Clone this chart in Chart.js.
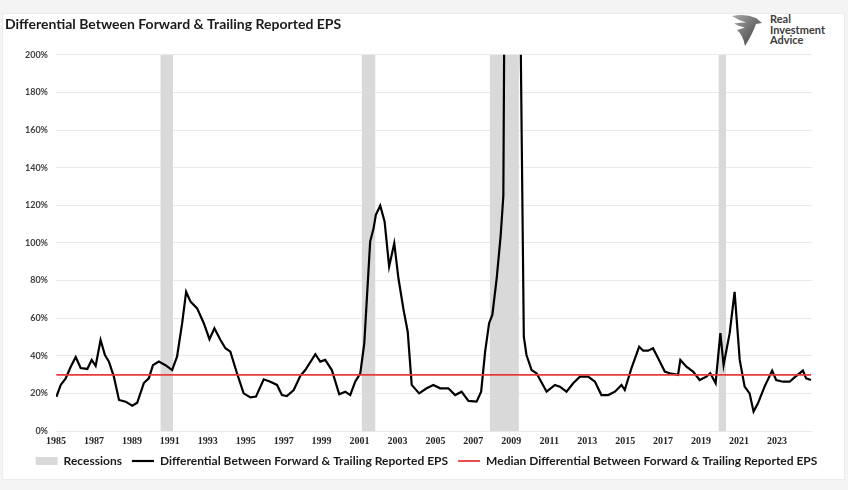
<!DOCTYPE html>
<html>
<head>
<meta charset="utf-8">
<script src="https://cdn.jsdelivr.net/npm/chart.js@4.4.1/dist/chart.umd.min.js"></script>
<style>
  html, body { margin: 0; padding: 0; background: #f4f4f4; }
  #wrap { position: relative; width: 848px; height: 490px; overflow: hidden; }
  #card { position: absolute; left: 2px; top: 13px; width: 843px; height: 467px; background: #fff; border: 1px solid #ececec; box-sizing: border-box; }
  #chart { position: absolute; left: 0; top: 0; }
  #logo { position: absolute; left: 731px; top: 13px; }
  #logoText { position: absolute; left: 770px; top: 14px; font: bold 11px Lato, sans-serif; line-height: 10.5px; color: #3c3c3c; }
</style>
</head>
<body>
<div id="wrap">
  <div id="card"></div>
  <svg id="logo" width="32" height="34" viewBox="0 0 32 34">
    <defs>
      <linearGradient id="g" x1="0" y1="0" x2="1" y2="1">
        <stop offset="0" stop-color="#a8a8a8"/>
        <stop offset="1" stop-color="#3a3a3a"/>
      </linearGradient>
    </defs>
    <path d="M1 3 Q14 0 25 5 L31 10 L25 11 Q22 20 14 33 Q12 22 6 17 Q10 15.5 14 14.5 Q8 13.5 3 10.5 Q9 9.5 15 9.5 Q8 7.5 1 3Z" fill="url(#g)"/>
  </svg>
  <div id="logoText">Real<br>Investment<br>Advice</div>
  <canvas id="chart" width="848" height="490"></canvas>
</div>
<script>
// values (decimal year, percent)
const dates = [
  1985.02, 1985.25, 1985.51, 1985.77, 1986.04, 1986.30, 1986.65, 1986.88, 1987.09, 1987.35,
  1987.58, 1987.79, 1988.05, 1988.32, 1988.67, 1989.02, 1989.28, 1989.63, 1989.89, 1990.11,
  1990.42, 1990.77, 1991.12, 1991.38, 1991.65, 1991.86, 1992.09, 1992.44, 1992.79, 1993.09,
  1993.35, 1993.67, 1993.93, 1994.19, 1994.54, 1994.89, 1995.25, 1995.54, 1995.95, 1996.30,
  1996.65, 1996.91, 1997.17, 1997.53, 1997.88, 1998.14, 1998.67, 1998.93, 1999.19, 1999.54,
  1999.93, 2000.25, 2000.51, 2000.77, 2001.04, 2001.25, 2001.56, 2001.74, 2001.86, 2002.09,
  2002.32, 2002.56, 2002.83, 2003.05, 2003.32, 2003.54, 2003.75, 2004.14, 2004.54, 2004.89,
  2005.25, 2005.68, 2006.04, 2006.38, 2006.74, 2007.17, 2007.41, 2007.62, 2007.83, 2008.00,
  2008.23, 2008.44, 2008.58, 2009.00, 2009.47, 2009.66, 2009.80, 2010.07, 2010.33, 2010.86,
  2011.30, 2011.56, 2011.91, 2012.26, 2012.62, 2013.05, 2013.41, 2013.75, 2014.11, 2014.46,
  2014.81, 2014.98, 2015.33, 2015.74, 2015.95, 2016.21, 2016.47, 2016.74, 2017.09, 2017.35,
  2017.79, 2017.91, 2018.23, 2018.58, 2018.93, 2019.28, 2019.49, 2019.77, 2020.02, 2020.19,
  2020.51, 2020.77, 2021.04, 2021.30, 2021.56, 2021.77, 2022.00, 2022.35, 2022.75, 2022.96,
  2023.32, 2023.67, 2023.93, 2024.37, 2024.54, 2024.80
];
const epsDiff = [
  18.2, 24.5, 28, 34, 39.3, 33.5, 33, 37.8, 34.6, 48.4,
  40.4, 36.9, 28.9, 16.5, 15.6, 13.5, 15, 25.5, 28, 35,
  36.9, 35, 32.4, 39.5, 57.3, 74, 68.8, 65.2, 57.3, 48.8,
  54.6, 48.4, 44, 42.2, 30.7, 20, 17.9, 18.3, 27.5, 26.2,
  24.5, 19.1, 18.6, 21.8, 29.3, 32.4, 40.8, 36.9, 37.8, 32.4,
  19.5, 20.9, 19.1, 26.2, 30.7, 46.6, 100.7, 107.8, 114.9, 119.8,
  111.4, 87.4, 99.8, 81.2, 64.4, 52.8, 24.5, 20, 22.7, 24.5,
  22.7, 22.7, 19.1, 20.9, 16, 15.6, 20.9, 42.2, 57.3, 61.7,
  81.2, 104, 125, 900, 230, 50, 40.4, 32.4, 30.7, 20.9,
  24.5, 23.6, 20.9, 25.4, 28.9, 28.9, 26.2, 19.1, 19.1, 20.9,
  24.5, 21.8, 33.3, 44.8, 42.7, 42.7, 44, 38.7, 31.6, 30.7,
  29.8, 37.8, 34.2, 31.6, 27.1, 28.9, 30.7, 25.4, 52, 35,
  52, 74, 37.8, 23.6, 20, 10.3, 14.7, 23.6, 32.1, 27.1,
  26.2, 26.2, 28.5, 32.1, 28, 27.1
];
const medianDiff = 29.8;
const recessionStart = [1990.5, 2001.12, 2007.87, 2019.93];
const recessionEnd = [1991.17, 2001.83, 2009.4, 2020.33];
const yearTicks = [1985, 1987, 1989, 1991, 1993, 1995, 1997, 1999, 2001, 2003,
  2005, 2007, 2009, 2011, 2013, 2015, 2017, 2019, 2021, 2023];

const yTop = 200;
const recessionPoints = [];
recessionStart.forEach((s, i) => {
  recessionPoints.push({x: s, y: 0}, {x: s, y: yTop}, {x: recessionEnd[i], y: yTop}, {x: recessionEnd[i], y: 0});
});

new Chart(document.getElementById("chart"), {
  type: "line",
  data: {
    datasets: [{
      label: "Recessions",
      data: recessionPoints,
      backgroundColor: "#d9d9d9",
      borderColor: "rgba(0,0,0,0)",
      borderWidth: 0,
      pointRadius: 0,
      pointStyle: "rect",
      fill: "origin",
      order: 3
    }, {
      label: "Differential Between Forward & Trailing Reported EPS",
      data: dates.map((d, i) => ({x: d, y: epsDiff[i]})),
      borderColor: "#000",
      borderWidth: 2.2,
      pointRadius: 0,
      pointStyle: "line",
      fill: false,
      order: 2
    }, {
      label: "Median Differential Between Forward & Trailing Reported EPS",
      data: [{x: dates[0], y: medianDiff}, {x: dates[dates.length - 1], y: medianDiff}],
      borderColor: "#e33b3b",
      borderWidth: 1.8,
      pointRadius: 0,
      pointStyle: "line",
      fill: false,
      order: 1
    }]
  },
  options: {
    responsive: false,
    animation: false,
    layout: {padding: {left: 5, right: 0, top: 0, bottom: 13}},
    plugins: {
      title: {
        display: true,
        text: "Differential Between Forward & Trailing Reported EPS",
        align: "start",
        color: "#1a1a1a",
        font: {family: "Lato", weight: "bold", size: 14},
        padding: {top: 16, bottom: 22}
      },
      legend: {
        position: "bottom",
        labels: {
          usePointStyle: true,
          pointStyleWidth: 22,
          boxHeight: 8,
          padding: 10,
          color: "#1a1a1a",
          font: {family: "Lato", weight: "bold", size: 12},
          sort: (a, b) => a.datasetIndex - b.datasetIndex
        }
      },
      tooltip: {enabled: false}
    },
    scales: {
      x: {
        type: "linear",
        min: 1985,
        max: 2024.85,
        afterBuildTicks: (scale) => { scale.ticks = yearTicks.map(v => ({value: v})); },
        afterFit: (scale) => { scale.height = 14; },
        ticks: {
          autoSkip: false,
          maxRotation: 0,
          padding: 4,
          color: "#262626",
          font: {family: "Liberation Serif", weight: "bold", size: 10},
          callback: (v) => String(v)
        },
        grid: {display: false, drawTicks: false},
        border: {display: false}
      },
      y: {
        min: 0,
        max: yTop,
        afterFit: (scale) => { scale.width = 51; },
        ticks: {
          stepSize: 20,
          padding: 8,
          color: "#404040",
          font: {family: "Lato", weight: "bold", size: 9},
          callback: (v) => v + "%"
        },
        grid: {color: "#e9e9e9", drawTicks: false},
        border: {display: false}
      },
      yRight: {
        position: "right",
        min: 0,
        max: yTop,
        afterFit: (scale) => { scale.width = 36; },
        ticks: {display: false},
        grid: {display: false, drawTicks: false},
        border: {display: false}
      }
    }
  }
});
</script>
</body>
</html>
